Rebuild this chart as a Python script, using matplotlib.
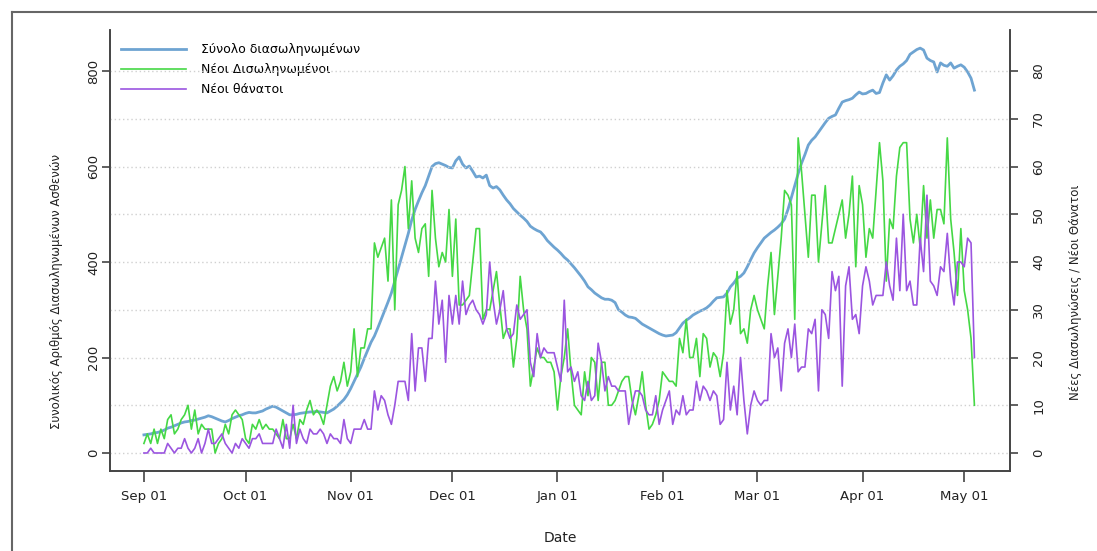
import matplotlib
matplotlib.use("Agg")
import matplotlib.pyplot as plt
import matplotlib.dates as mdates
from matplotlib.lines import Line2D
import pandas as pd

# Ημερομηνίες: μία τιμή ανά ημέρα από 1 Σεπτεμβρίου
start = "2020-09-01"

# Σύνολο διασωληνωμένων (αριστερός άξονας)
total_icu = [
    38, 39, 40, 42, 43, 45, 48, 52, 54, 57,
    60, 63, 65, 66, 68, 69, 71, 73, 75, 78,
    76, 73, 70, 67, 65, 68, 72, 75, 78, 80,
    83, 85, 84, 84, 86, 88, 92, 95, 98, 96,
    92, 88, 84, 80, 80, 81, 83, 84, 85, 86,
    86, 87, 86, 85, 84, 88, 92, 98, 105, 112,
    122, 135, 150, 165, 180, 198, 215, 232, 245, 262,
    280, 298, 316, 335, 360, 385, 410, 435, 460, 488,
    510, 528, 545, 560, 580, 600, 606, 608, 605, 602,
    598, 597, 612, 620, 605, 597, 601, 590, 578, 580,
    576, 582, 560, 555, 558, 551, 540, 530, 522, 512,
    505, 498, 492, 485, 475, 470, 466, 463, 455, 445,
    438, 431, 425, 418, 410, 404, 396, 388, 379, 370,
    360, 348, 342, 335, 330, 325, 322, 322, 320, 315,
    300, 295, 289, 285, 284, 282, 276, 270, 266, 262,
    258, 254, 250, 247, 245, 246, 247, 252, 262, 272,
    278, 283, 289, 293, 297, 300, 304, 310, 318, 325,
    326, 327, 335, 348, 356, 366, 370, 377, 390, 405,
    419, 430, 440, 450, 456, 462, 467, 473, 480, 490,
    510, 535, 560, 585, 607, 625, 645, 655, 662, 672,
    682, 692, 701, 705, 708, 722, 735, 738, 740, 743,
    750, 756, 752, 753, 757, 760, 753, 755, 775, 792,
    781, 790, 802, 810, 815, 822, 835, 840, 845, 848,
    844, 827, 822, 819, 798, 817, 812, 810, 817, 806,
    810, 813, 808, 798, 785, 760,
]

# Νέοι διασωληνωμένοι (δεξιός άξονας)
new_icu = [
    2, 4, 2, 5, 2, 5, 3, 7, 8, 4,
    5, 7, 8, 10, 5, 9, 4, 6, 5, 5,
    5, 0, 2, 3, 6, 4, 8, 9, 8, 7,
    3, 2, 6, 5, 7, 5, 6, 5, 5, 4,
    3, 7, 3, 3, 6, 3, 7, 6, 9, 11,
    8, 9, 8, 6, 10, 14, 16, 13, 15, 19,
    14, 17, 26, 16, 22, 22, 26, 26, 44, 41,
    43, 45, 36, 53, 30, 52, 55, 60, 47, 57,
    45, 42, 47, 48, 37, 55, 45, 39, 42, 40,
    51, 37, 49, 31, 31, 32, 33, 40, 47, 47,
    28, 30, 30, 34, 38, 31, 24, 26, 26, 18,
    24, 37, 30, 26, 14, 18, 22, 20, 20, 19,
    19, 17, 9, 16, 20, 26, 17, 10, 9, 8,
    17, 12, 20, 19, 11, 19, 19, 10, 10, 11,
    13, 15, 16, 16, 11, 8, 12, 17, 10, 5,
    6, 8, 11, 17, 16, 15, 15, 14, 24, 21,
    28, 20, 20, 24, 16, 25, 24, 18, 21, 20,
    16, 21, 34, 27, 30, 38, 25, 26, 23, 30,
    33, 30, 28, 26, 35, 42, 29, 37, 45, 55,
    54, 52, 28, 66, 59, 50, 41, 54, 54, 40,
    48, 56, 44, 44, 47, 50, 53, 45, 50, 58,
    39, 56, 52, 41, 47, 45, 55, 65, 57, 36,
    49, 47, 58, 64, 65, 65, 49, 44, 50, 43,
    56, 45, 53, 45, 51, 51, 48, 66, 49, 42,
    33, 47, 34, 30, 24, 10,
]

# Νέοι θάνατοι (δεξιός άξονας)
new_deaths = [
    0, 0, 1, 0, 0, 0, 0, 2, 1, 0,
    1, 1, 3, 1, 0, 1, 3, 0, 2, 5,
    2, 2, 3, 4, 2, 1, 0, 2, 1, 3,
    2, 1, 3, 3, 4, 2, 2, 2, 2, 5,
    3, 1, 6, 1, 10, 2, 5, 3, 2, 5,
    4, 4, 5, 4, 2, 4, 3, 3, 2, 7,
    3, 2, 5, 5, 5, 7, 5, 5, 13, 9,
    12, 11, 8, 6, 10, 15, 15, 15, 11, 25,
    13, 22, 22, 15, 24, 24, 36, 27, 32, 19,
    33, 27, 33, 27, 36, 29, 31, 32, 30, 29,
    27, 29, 40, 32, 27, 30, 34, 26, 24, 25,
    31, 28, 29, 30, 19, 16, 25, 20, 22, 21,
    21, 21, 18, 15, 32, 17, 18, 15, 17, 12,
    11, 15, 11, 12, 23, 19, 13, 16, 14, 14,
    13, 13, 13, 6, 10, 13, 13, 12, 9, 8,
    8, 12, 6, 9, 11, 13, 6, 9, 8, 12,
    8, 9, 9, 15, 11, 14, 13, 11, 13, 12,
    6, 7, 19, 9, 14, 8, 20, 11, 4, 10,
    13, 11, 10, 11, 11, 25, 20, 22, 13, 23,
    26, 20, 27, 17, 18, 18, 26, 25, 28, 13,
    30, 29, 24, 38, 34, 37, 14, 35, 39, 28,
    29, 25, 35, 39, 36, 31, 33, 33, 33, 40,
    35, 32, 45, 34, 50, 34, 36, 31, 31, 45,
    38, 54, 36, 35, 33, 39, 38, 46, 36, 31,
    40, 40, 39, 45, 44, 20,
]

labels = ["Σύνολο διασωληνωμένων", "Νέοι Δισωληνωμένοι", "Νέοι θάνατοι"]
month_ticks = pd.date_range("2020-09-01", "2021-05-01", freq="MS")

dates = pd.date_range(start, periods=len(total_icu), freq="D")

fig = plt.figure(figsize=(10.97, 5.51), dpi=100)
ax = fig.add_axes([0.1003, 0.1452, 0.8204, 0.8004])
ax2 = ax.twinx()

l1, = ax.plot(dates, total_icu, color="#6ea4d2", lw=2.0, label=labels[0])
l2, = ax2.plot(dates, new_icu, color="#45d845", lw=1.2, label=labels[1])
l3, = ax2.plot(dates, new_deaths, color="#9b55e0", lw=1.2, label=labels[2])

t0 = pd.Timestamp(start)
ax.set_xlim(t0 - pd.Timedelta(days=10), t0 + pd.Timedelta(days=255.5))
ax.set_ylim(-37.7, 886)
ax2.set_ylim(-3.77, 88.6)

ax.set_yticks([0, 200, 400, 600, 800])
ax2.set_yticks(range(0, 81, 10))
ax.set_xticks(month_ticks)
ax.xaxis.set_major_formatter(mdates.DateFormatter("%b %d"))

ax2.yaxis.grid(True, linestyle=(0, (1, 2)), color="#d0d0d0", lw=1)
ax2.set_axisbelow(True)

for a in (ax, ax2):
    a.spines["top"].set_visible(False)
    for s in ("left", "right", "bottom"):
        a.spines[s].set_color("#444444")
        a.spines[s].set_linewidth(1.2)
    a.tick_params(length=6, width=1.2, color="#444444", labelsize=9.5,
                  labelcolor="#222222")

ax.tick_params(axis="x", length=8, pad=6)
for lab in ax.get_yticklabels():
    lab.set_rotation(90)
    lab.set_va("center")
for lab in ax2.get_yticklabels():
    lab.set_rotation(90)
    lab.set_va("center")
ax.tick_params(axis="y", pad=1)
ax2.tick_params(axis="y", pad=10)

ax.set_xlabel("Date", fontsize=10, color="#222222")
ax.xaxis.set_label_coords(0.5, -0.135)
ax.set_ylabel("Συνολικός Αριθμός Διασωληνωμένων Ασθενών", fontsize=8.5,
              color="#222222")
ax.yaxis.set_label_coords(-0.052, 0.406)
ax2.set_ylabel("Νέες Διασωληνώσεις / Νέοι Θάνατοι", fontsize=8.5,
               color="#222222", rotation=90)
ax2.yaxis.set_label_coords(1.066, 0.406)

ax.legend([l1, l2, l3], labels, loc="upper left", bbox_to_anchor=(0.0, 0.995),
          frameon=False, fontsize=9, handlelength=5.2, handletextpad=1.2,
          labelspacing=0.55)

# Πλαίσιο της εικόνας
fig.add_artist(Line2D([0.011, 1.0], [0.978, 0.978], color="#666666", lw=1.5))
fig.add_artist(Line2D([0.011, 0.011], [0.0, 0.978], color="#666666", lw=1.5))

fig.savefig("out.png", dpi=100)
